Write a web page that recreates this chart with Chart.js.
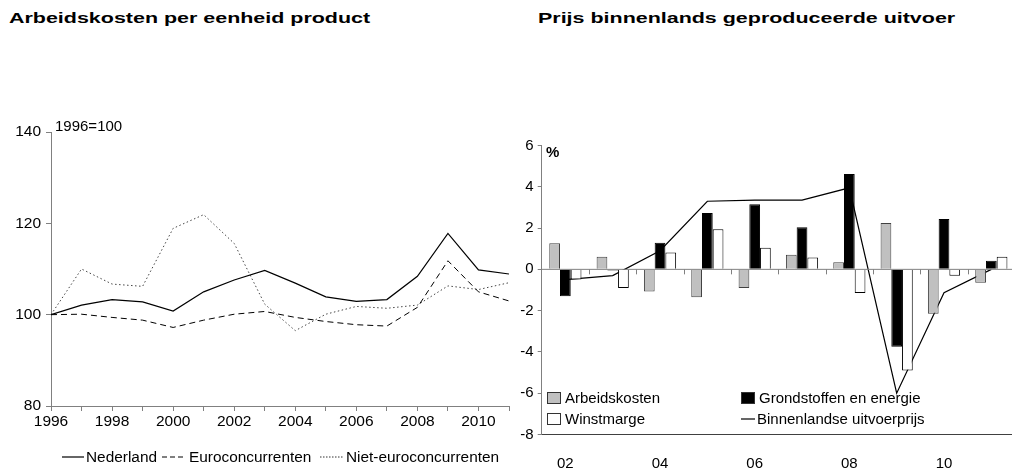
<!DOCTYPE html>
<html>
<head>
<meta charset="utf-8">
<script src="https://cdn.jsdelivr.net/npm/chart.js@4.4.0/dist/chart.umd.min.js"></script>
<style>
  body { margin: 0; width: 1012px; height: 471px; position: relative; overflow: hidden; background: #fff;
         font-family: "Liberation Sans", Arial, sans-serif; color: #000; }
  .title { position: absolute; top: 9px; font-weight: bold; font-size: 15px; white-space: nowrap;
           transform: scaleX(1.43); transform-origin: 0 0; }
  .lbl { position: absolute; font-size: 15px; white-space: nowrap; }
  .leg { position: absolute; font-size: 15px; display: flex; align-items: center; white-space: nowrap; }
  .box { display: inline-block; width: 12px; height: 10px; border: 1px solid #333; margin-right: 4px; }
  #left { position: absolute; left: 0; top: 0; }
  #right { position: absolute; left: 520px; top: 0; }
</style>
</head>
<body>
<div class="title" style="left:9px">Arbeidskosten per eenheid product</div>
<div class="title" style="left:538px">Prijs binnenlands geproduceerde uitvoer</div>

<canvas id="left" width="520" height="471"></canvas>
<canvas id="right" width="495" height="471"></canvas>

<div class="lbl" style="left:55px; top:117px">1996=100</div>
<div class="lbl" style="left:546px; top:143px; font-weight:bold">%</div>

<!-- legenda links -->
<svg class="lbl" style="left:62px; top:455px" width="22" height="4"><line x1="0" y1="2" x2="22" y2="2" stroke="#000" stroke-width="1.2"/></svg>
<div class="lbl" style="left:86px; top:448px; font-size:15.4px">Nederland</div>
<svg class="lbl" style="left:162px; top:455px" width="24" height="4"><line x1="0" y1="2" x2="24" y2="2" stroke="#000" stroke-width="1" stroke-dasharray="5,3"/></svg>
<div class="lbl" style="left:189px; top:448px; font-size:15.4px">Euroconcurrenten</div>
<svg class="lbl" style="left:320px; top:455px" width="23" height="4"><line x1="0" y1="2" x2="23" y2="2" stroke="#333" stroke-width="1" stroke-dasharray="1.5,1.5"/></svg>
<div class="lbl" style="left:346px; top:448px; font-size:15.4px">Niet-euroconcurrenten</div>

<!-- legenda rechts -->
<div class="leg" style="left:547px; top:389px"><span class="box" style="background:#c0c0c0"></span>Arbeidskosten</div>
<div class="leg" style="left:741px; top:389px"><span class="box" style="background:#000"></span>Grondstoffen en energie</div>
<div class="leg" style="left:547px; top:410px"><span class="box" style="background:#fff"></span>Winstmarge</div>
<div class="leg" style="left:741px; top:410px">
  <svg width="14" height="4" style="margin-right:2px"><line x1="0" y1="2" x2="14" y2="2" stroke="#000" stroke-width="1.2"/></svg>Binnenlandse uitvoerprijs
</div>

<script>
// links: index 1996=100
const years = [1996,1997,1998,1999,2000,2001,2002,2003,2004,2005,2006,2007,2008,2009,2010,2011];
const nederland = [100,102.1,103.3,102.8,100.8,105,107.6,109.7,106.9,103.9,102.9,103.3,108.4,117.8,109.8,108.9];
const euroconc = [100,100.1,99.4,98.8,97.2,98.8,100.1,100.7,99.4,98.5,97.8,97.5,101.6,111.8,105,103];
const nietEuro = [100,110,106.7,106.2,118.9,121.9,115.6,102.3,96.5,100.1,101.8,101.4,102.1,106.3,105.5,107];

// rechts: mutaties in %
const jaren = ['02','03','04','05','06','07','08','09','10','11'];
const arbeidskosten = [1.26,0.61,-1.07,-1.35,-0.9,0.71,0.34,2.25,-2.15,-0.65];
const grondstoffen = [-1.3,-0.05,1.29,2.73,3.16,2.04,4.62,-3.75,2.44,0.42];
const winstmarge = [-0.49,-0.9,0.82,1.94,1.05,0.57,-1.14,-4.9,-0.31,0.61];
const uitvoerprijs = [-0.5,-0.3,0.9,3.3,3.35,3.35,3.95,-6.0,-1.13,0.0];

const axisGrey = '#808080';
Chart.defaults.font.family = '"Liberation Sans", Arial, sans-serif';
Chart.defaults.color = '#000';
Chart.defaults.animation = false;

function pts(arr){ return arr.map((v,i) => ({x: years[i], y: v})); }

new Chart(document.getElementById('left'), {
  type: 'line',
  data: {
    datasets: [
      {label:'Nederland', data: pts(nederland), borderColor:'#000', borderWidth:1.2, pointRadius:0, tension:0},
      {label:'Euroconcurrenten', data: pts(euroconc), borderColor:'#000', borderWidth:1, borderDash:[6,4], pointRadius:0},
      {label:'Niet-euroconcurrenten', data: pts(nietEuro), borderColor:'#444', borderWidth:1, borderDash:[1.5,2.5], pointRadius:0}
    ]
  },
  options: {
    responsive: false,
    layout: { padding: { top: 132, right: 11, left: 0, bottom: 0 } },
    plugins: { legend: { display: false }, tooltip: { enabled: false } },
    scales: {
      x: {
        type: 'linear', min: 1996, max: 2011,
        ticks: { stepSize: 1, autoSkip: false, maxRotation: 0, padding: 1, font: { size: 15.5 },
                 callback: v => (v % 2 === 0 && v < 2011) ? String(v) : '' },
        grid: { drawOnChartArea: false, tickLength: 5, color: axisGrey },
        border: { color: axisGrey },
        afterFit: s => { s.height = 65; }
      },
      y: {
        min: 80, max: 140,
        ticks: { stepSize: 20, padding: 5, font: { size: 15.5 } },
        grid: { drawOnChartArea: false, tickLength: 5, color: axisGrey },
        border: { color: axisGrey },
        afterFit: s => { s.width = 51; }
      }
    }
  }
});

// nul-lijn met streepjes tussen de jaren
const zeroLine = {
  id: 'zeroLine',
  afterDatasetsDraw(chart) {
    const {ctx, chartArea, scales: {x, y}} = chart;
    const y0 = y.getPixelForValue(0);
    ctx.save();
    ctx.strokeStyle = axisGrey;
    ctx.lineWidth = 1;
    ctx.beginPath();
    ctx.moveTo(chartArea.left, y0);
    ctx.lineTo(chartArea.right, y0);
    for (let i = 0; i < jaren.length - 1; i++) {
      const bx = Math.round((x.getPixelForValue(i) + x.getPixelForValue(i + 1)) / 2) + 0.5;
      ctx.moveTo(bx, y0);
      ctx.lineTo(bx, y0 + 5);
    }
    ctx.stroke();
    ctx.restore();
  }
};

new Chart(document.getElementById('right'), {
  data: {
    labels: jaren,
    datasets: [
      {type:'bar', label:'Arbeidskosten', data: arbeidskosten, backgroundColor:'#c0c0c0', borderColor:'#404040', borderWidth:1, order:1},
      {type:'bar', label:'Grondstoffen en energie', data: grondstoffen, backgroundColor:'#000', borderColor:'#000', borderWidth:1, order:1},
      {type:'bar', label:'Winstmarge', data: winstmarge, backgroundColor:'#fff', borderColor:'#000', borderWidth:1, order:1},
      {type:'line', label:'Binnenlandse uitvoerprijs', data: uitvoerprijs, borderColor:'#000', borderWidth:1.2, pointRadius:0, order:2}
    ]
  },
  options: {
    responsive: false,
    layout: { padding: { top: 145.5, right: 0, left: 0, bottom: 0 } },
    plugins: { legend: { display: false }, tooltip: { enabled: false } },
    datasets: { bar: { categoryPercentage: 0.68, barPercentage: 1 } },
    scales: {
      x: {
        ticks: { autoSkip: false, maxRotation: 0, padding: 20, font: { size: 15 },
                 callback: (v, i) => (i % 2 === 0) ? jaren[i] : '' },
        grid: { display: false, drawTicks: false },
        border: { color: '#404040' },
        afterFit: s => { s.height = 36.5; }
      },
      y: {
        min: -8, max: 6,
        ticks: { stepSize: 2, padding: 4, font: { size: 15 } },
        grid: { drawOnChartArea: false, tickLength: 4, color: axisGrey },
        border: { color: axisGrey },
        afterFit: s => { s.width = 21.7; }
      }
    }
  },
  plugins: [zeroLine]
});
</script>
</body>
</html>
